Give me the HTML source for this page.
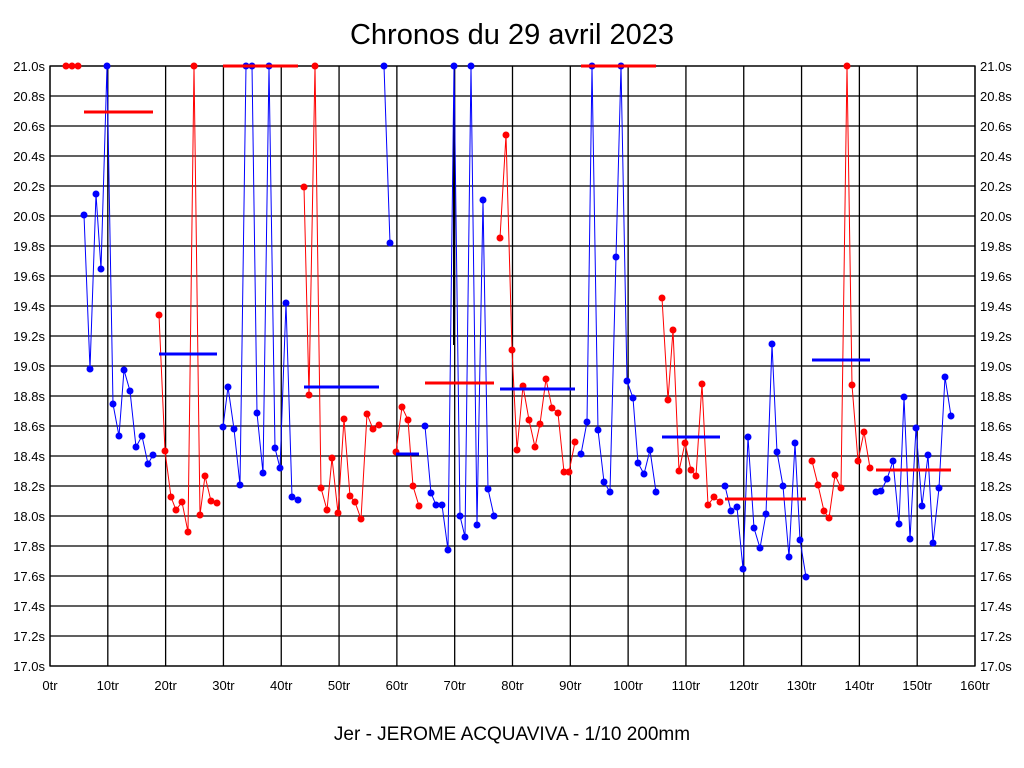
<!DOCTYPE html>
<html><head><meta charset="utf-8"><style>
html,body{margin:0;padding:0;background:#fff;width:1024px;height:768px;overflow:hidden}
svg{display:block;font-family:"Liberation Sans",sans-serif}
</style></head><body>
<svg id="s" width="1024" height="768" xmlns="http://www.w3.org/2000/svg">
<rect x="0" y="0" width="1024" height="768" fill="#fff"/>
<text x="512" y="44" font-size="29" text-anchor="middle">Chronos du 29 avril 2023</text>
<text x="512" y="740" font-size="19" text-anchor="middle">Jer - JEROME ACQUAVIVA - 1/10 200mm</text>
<g id="grid" stroke="#000" stroke-width="1.3"></g>
<g id="lab" font-size="13"></g>
<g id="data"></g>
</svg>
<script>
var NS="http://www.w3.org/2000/svg";
function el(p,t,a,txt){var e=document.createElementNS(NS,t);for(var k in a)e.setAttribute(k,a[k]);if(txt!=null)e.textContent=txt;p.appendChild(e);return e;}
var g=document.getElementById('grid'),lab=document.getElementById('lab'),d=document.getElementById('data');
for(var i=0;i<=20;i++){var y=66+i*30;el(g,'line',{x1:50,x2:975,y1:y,y2:y});
var v=(21-i*0.2).toFixed(1)+'s';el(lab,'text',{x:45,y:y+5,'text-anchor':'end'},v);el(lab,'text',{x:980,y:y+5},v);}
for(var i=0;i<=16;i++){var x=50+i*925/16;el(g,'line',{x1:x,x2:x,y1:66,y2:666});
el(lab,'text',{x:x,y:690,'text-anchor':'middle'},(i*10)+'tr');}
el(g,'rect',{x:50,y:66,width:925,height:600,fill:'none'});
var segs=[
['r',[[66,66],[72,66],[78,66]]],
['b',[[84,215],[90,369],[96,194],[101,269],[107,66],[113,404],[119,436],[124,370],[130,391],[136,447],[142,436],[148,464],[153,455]]],
['r',[[159,315],[165,451],[171,497],[176,510],[182,502],[188,532],[194,66],[200,515],[205,476],[211,501],[217,503]]],
['b',[[223,427],[228,387],[234,429],[240,485],[246,66],[252,66],[257,413],[263,473],[269,66],[275,448],[280,468],[286,303],[292,497],[298,500]]],
['r',[[304,187],[309,395],[315,66],[321,488],[327,510],[332,458],[338,513],[344,419],[350,496],[355,502],[361,519],[367,414],[373,429],[379,425]]],
['b',[[384,66],[390,243]]],
['r',[[396,452],[402,407],[408,420],[413,486],[419,506]]],
['b',[[425,426],[431,493],[436,505],[442,505],[448,550],[454,66],[460,516],[465,537],[471,66],[477,525],[483,200],[488,489],[494,516]]],
['r',[[500,238],[506,135],[512,350],[517,450],[523,386],[529,420],[535,447],[540,424],[546,379],[552,408],[558,413],[564,472],[569,472],[575,442]]],
['b',[[581,454],[587,422],[592,66],[598,430],[604,482],[610,492],[616,257],[621,66],[627,381],[633,398],[638,463],[644,474],[650,450],[656,492]]],
['r',[[662,298],[668,400],[673,330],[679,471],[685,443],[691,470],[696,476],[702,384],[708,505],[714,497],[720,502]]],
['b',[[725,486],[731,511],[737,507],[743,569],[748,437],[754,528],[760,548],[766,514],[772,344],[777,452],[783,486],[789,557],[795,443],[800,540],[806,577]]],
['r',[[812,461],[818,485],[824,511],[829,518],[835,475],[841,488],[847,66],[852,385],[858,461],[864,432],[870,468]]],
['b',[[876,492],[881,491],[887,479],[893,461],[899,524],[904,397],[910,539],[916,428],[922,506],[928,455],[933,543],[939,488],[945,377],[951,416]]]];
var col={r:'#ff0000',b:'#0000ff'};
el(d,'line',{x1:454,x2:454,y1:105,y2:345,stroke:'#000','stroke-width':2});
segs.forEach(function(s){var c=col[s[0]];
el(d,'polyline',{points:s[1].map(function(p){return p.join(',')}).join(' '),fill:'none',stroke:c,'stroke-width':1});
s[1].forEach(function(p){el(d,'circle',{cx:p[0],cy:p[1],r:3.5,fill:c});});});
var avg=[['r',84,153,112],['b',159,217,354],['r',223,298,66],['b',304,379,387],['b',396,419,454],['r',425,494,383],['b',500,575,389],['r',581,656,66],['b',662,720,437],['r',725,806,499],['b',812,870,360],['r',876,951,470]];
avg.forEach(function(a){el(d,'line',{x1:a[1],x2:a[2],y1:a[3],y2:a[3],stroke:col[a[0]],'stroke-width':3});});
</script>
</body></html>
